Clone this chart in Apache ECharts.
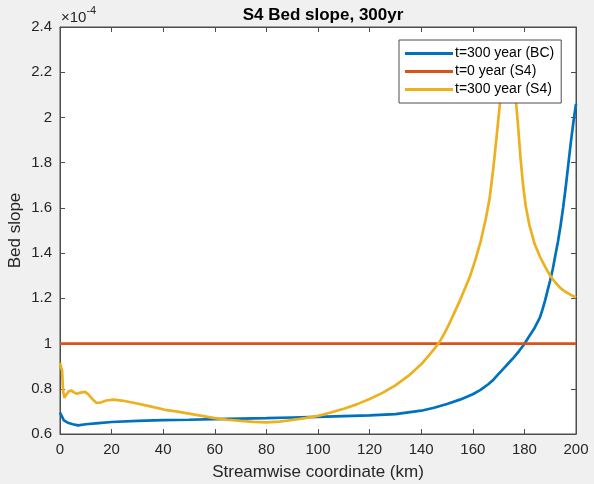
<!DOCTYPE html>
<html>
<head>
<meta charset="utf-8">
<script src="https://cdn.jsdelivr.net/npm/echarts@6/dist/echarts.min.js"></script>
<style>
  html, body { margin: 0; padding: 0; background: #f0f0f0; }
  #chart { width: 594px; height: 484px; }
</style>
</head>
<body>
<div id="chart"></div>
<script>
// Streamwise coordinate (km) and bed slope (x 1e-4)
const kmBC = [0, 0.5, 1.5, 3, 5, 7, 10, 15, 20, 30, 40, 50, 60, 70, 80, 90, 100, 110, 120, 130, 140, 145, 150, 155, 160, 163, 166, 168, 170, 172, 174, 176, 178, 180, 182, 184, 186, 187, 188, 189, 190, 191, 192, 193, 194, 195, 196, 197, 198, 199, 200];
const slopeBC = [0.695, 0.688, 0.660, 0.650, 0.643, 0.638, 0.643, 0.648, 0.653, 0.658, 0.661, 0.663, 0.666, 0.668, 0.670, 0.673, 0.676, 0.679, 0.682, 0.688, 0.703, 0.716, 0.733, 0.752, 0.776, 0.795, 0.820, 0.840, 0.866, 0.890, 0.915, 0.940, 0.968, 0.998, 1.035, 1.070, 1.115, 1.150, 1.190, 1.235, 1.280, 1.330, 1.390, 1.450, 1.520, 1.600, 1.690, 1.790, 1.890, 1.980, 2.060];

const kmInit = [0, 200];
const slopeInit = [1.0, 1.0];

const kmS4 = [0, 0.4, 0.8, 1.2, 1.7, 2.5, 3.5, 4.5, 5.5, 6.5, 8, 9.7, 11, 12.5, 14.2, 16, 18, 20.7, 24, 29, 35, 40.7, 45, 50, 55, 60, 65, 70, 75, 80, 85, 90, 95, 100, 105, 110, 115, 120, 125, 130, 135, 140, 143, 145, 147, 149, 151, 153, 155, 157, 159, 161, 163, 165, 166.5, 168, 169, 170.5, 172, 173.5, 174.5, 175.5, 176.5, 177.5, 178.5, 179.5, 180.5, 182, 184, 186, 188, 190, 192, 194, 196, 198, 200];
const slopeS4 = [0.915, 0.915, 0.88, 0.79, 0.76, 0.775, 0.79, 0.792, 0.783, 0.778, 0.783, 0.786, 0.775, 0.755, 0.737, 0.740, 0.748, 0.752, 0.748, 0.737, 0.722, 0.707, 0.700, 0.690, 0.680, 0.670, 0.663, 0.658, 0.654, 0.651, 0.655, 0.662, 0.670, 0.680, 0.695, 0.712, 0.731, 0.755, 0.782, 0.815, 0.857, 0.908, 0.948, 0.975, 1.005, 1.045, 1.090, 1.140, 1.190, 1.245, 1.300, 1.370, 1.450, 1.550, 1.640, 1.780, 1.890, 2.060, 2.200, 2.270, 2.270, 2.200, 2.100, 1.970, 1.820, 1.700, 1.610, 1.520, 1.440, 1.385, 1.340, 1.300, 1.270, 1.245, 1.228, 1.215, 1.205];

const xTicks = { min: 0, max: 200, interval: 20 };
const yTicks = { min: 0.6, max: 2.4, interval: 0.2 };

const pairs = (xs, ys) => xs.map((x, i) => [x, ys[i]]);

const axisColor = '#4d4d4d';
const textColor = '#262626';
const font = 'Liberation Sans, Arial, sans-serif';

const chart = echarts.init(document.getElementById('chart'), null, { renderer: 'canvas' });

const baseX = {
  type: 'value', min: xTicks.min, max: xTicks.max, interval: xTicks.interval,
  axisLine: { show: true, onZero: false, lineStyle: { color: axisColor, width: 1 } },
  axisTick: { show: true, inside: true, length: 5, lineStyle: { color: axisColor } },
  splitLine: { show: false }
};
const baseY = {
  type: 'value', min: yTicks.min, max: yTicks.max, interval: yTicks.interval,
  axisLine: { show: true, onZero: false, lineStyle: { color: axisColor, width: 1 } },
  axisTick: { show: true, inside: true, length: 5, lineStyle: { color: axisColor } },
  splitLine: { show: false }
};

chart.setOption({
  backgroundColor: '#f0f0f0',
  animation: false,
  textStyle: { fontFamily: font },
  title: {
    text: 'S4 Bed slope, 300yr',
    left: 318, top: 2, textAlign: 'center',
    textStyle: { fontFamily: font, fontSize: 17, fontWeight: 'bold', color: '#000' }
  },
  grid: {
    left: 60, right: 18, top: 27, bottom: 50,
    outerBoundsMode: 'none', containLabel: false,
    show: true, backgroundColor: '#ffffff', borderColor: axisColor, borderWidth: 1
  },
  legend: {
    orient: 'vertical',
    left: 399, top: 40, z: 20,
    backgroundColor: '#ffffff',
    borderColor: axisColor, borderWidth: 1,
    padding: [6, 7, 6, 6],
    itemWidth: 48, itemHeight: 3, itemGap: 3,
    icon: 'rect',
    textStyle: { fontFamily: font, fontSize: 14, color: '#000', lineHeight: 15, padding: [0, 0, 0, -3] },
    data: ['t=300 year (BC)', 't=0 year (S4)', 't=300 year (S4)']
  },
  xAxis: [
    Object.assign({}, baseX, {
      position: 'bottom',
      name: 'Streamwise coordinate (km)',
      nameLocation: 'middle', nameGap: 30, nameMoveOverlap: false,
      nameTextStyle: { fontFamily: font, fontSize: 17, color: textColor },
      axisLabel: { color: textColor, fontSize: 15, margin: 8, fontFamily: font }
    }),
    Object.assign({}, baseX, { position: 'top', axisLabel: { show: false } })
  ],
  yAxis: [
    Object.assign({}, baseY, {
      position: 'left',
      name: 'Bed slope',
      nameLocation: 'middle', nameGap: 36, nameMoveOverlap: false,
      nameTextStyle: { fontFamily: font, fontSize: 17, color: textColor },
      axisLabel: { color: textColor, fontSize: 15, margin: 8, fontFamily: font,
        formatter: v => String(Math.round(v * 10) / 10) }
    }),
    Object.assign({}, baseY, { position: 'right', axisLabel: { show: false } })
  ],
  graphic: [{
    type: 'text', left: 61, top: 5,
    style: {
      text: '{b|\u00d710}{s|-4}',
      rich: {
        b: { fontFamily: font, fontSize: 15, fill: textColor, verticalAlign: 'bottom', lineHeight: 20 },
        s: { fontFamily: font, fontSize: 11, fill: textColor, verticalAlign: 'top', lineHeight: 20, padding: [0, 0, 8, 0] }
      }
    }
  }],
  series: [
    {
      name: 't=300 year (BC)', type: 'line', data: pairs(kmBC, slopeBC),
      showSymbol: false, symbol: 'none', clip: true,
      lineStyle: { color: '#0072BD', width: 2.7 }, itemStyle: { color: '#0072BD' }
    },
    {
      name: 't=0 year (S4)', type: 'line', data: pairs(kmInit, slopeInit),
      showSymbol: false, symbol: 'none', clip: true,
      lineStyle: { color: '#D95319', width: 2.7 }, itemStyle: { color: '#D95319' }
    },
    {
      name: 't=300 year (S4)', type: 'line', data: pairs(kmS4, slopeS4),
      showSymbol: false, symbol: 'none', clip: true,
      lineStyle: { color: '#EDB120', width: 2.7 }, itemStyle: { color: '#EDB120' }
    }
  ]
});
</script>
</body>
</html>
